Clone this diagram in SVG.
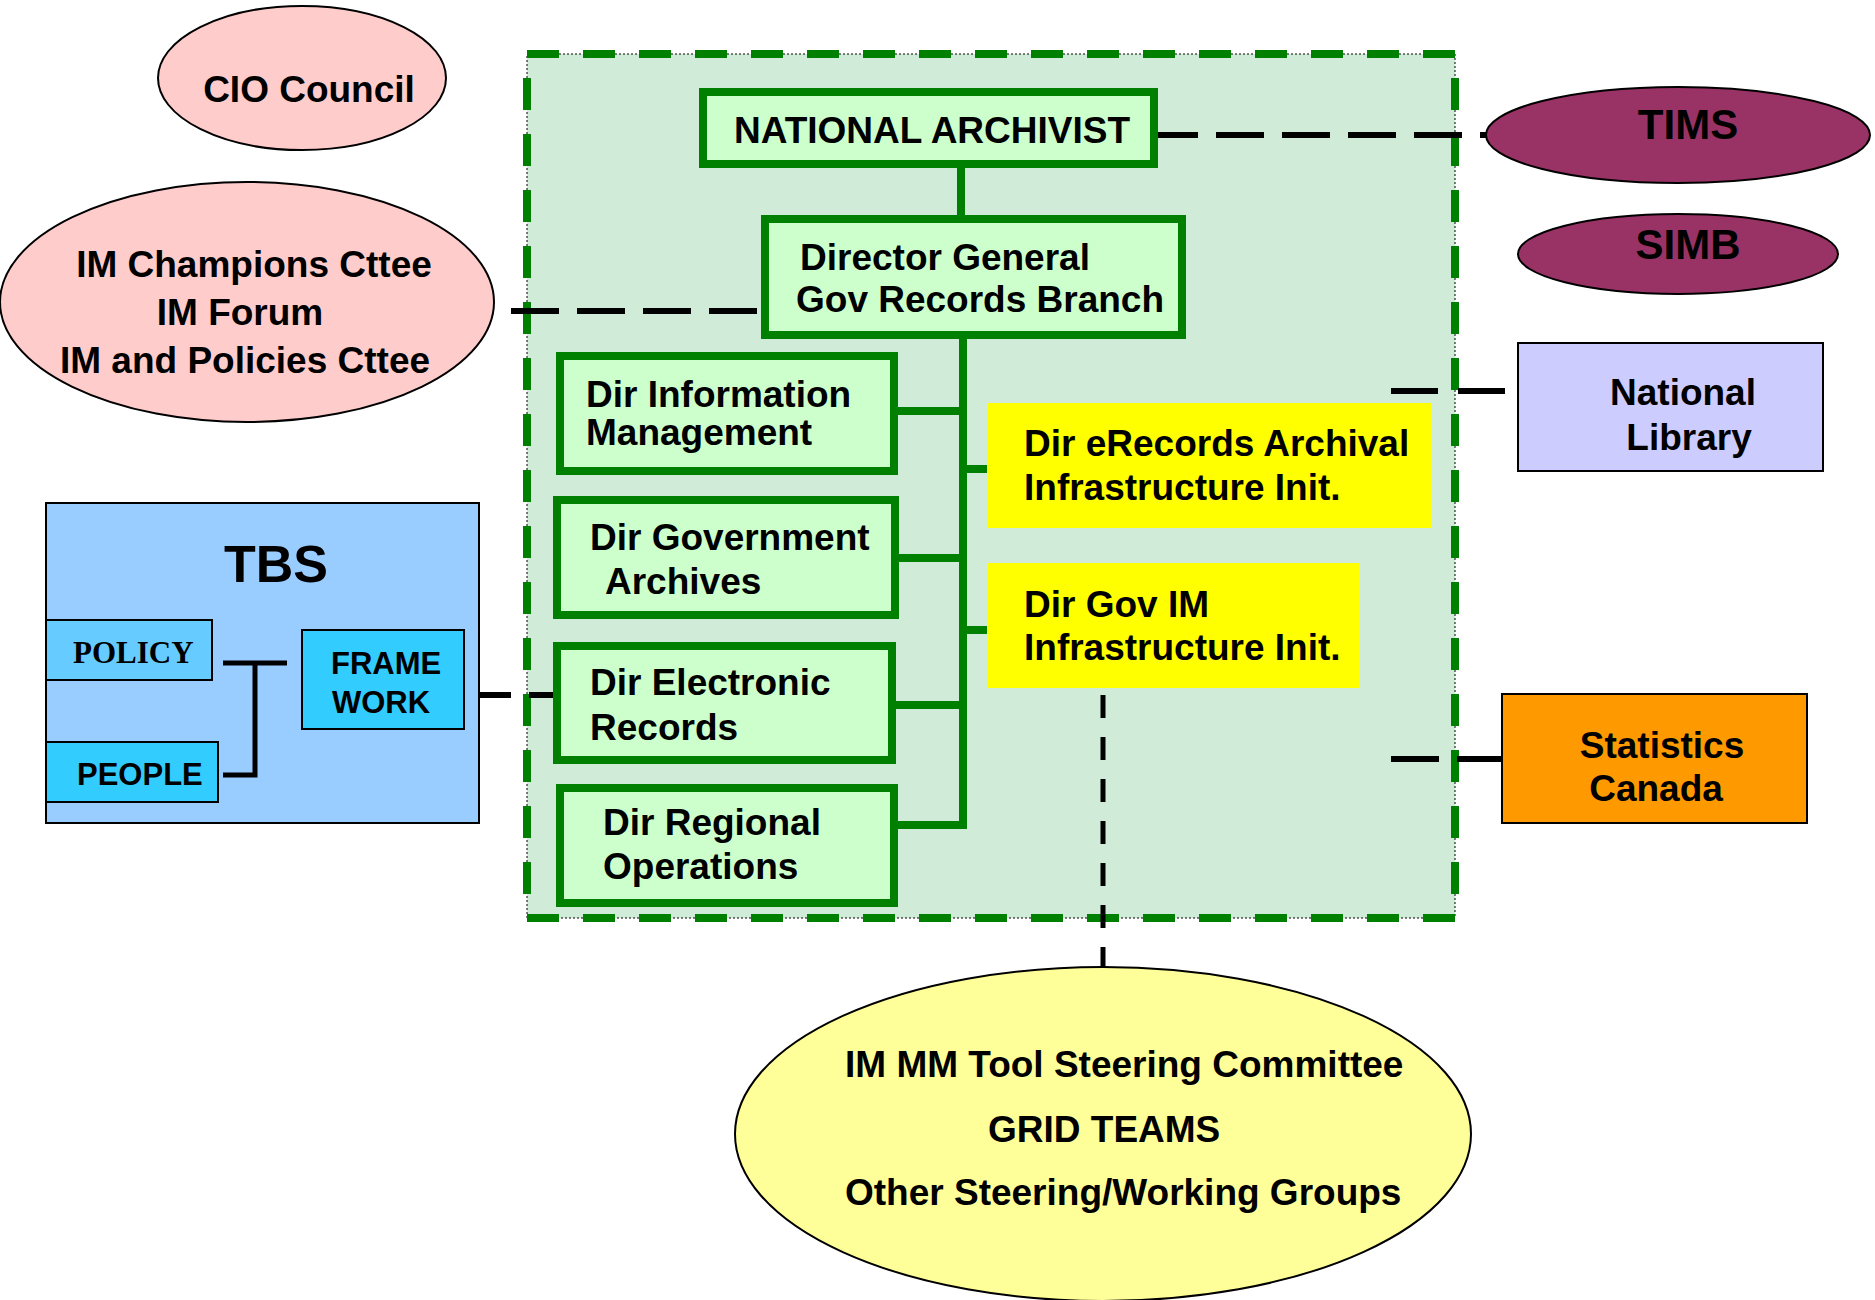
<svg xmlns="http://www.w3.org/2000/svg" width="1875" height="1300" viewBox="0 0 1875 1300">
<style>
text{font-family:"Liberation Sans",Arial,sans-serif;font-weight:bold;fill:#000;font-size:37px}
.serif{font-family:"Liberation Serif","Times New Roman",serif}
.mid{text-anchor:middle}
.gbox{fill:#CCFFCC;stroke:#008000;stroke-width:8}
.ybox{fill:#FFFF00}
.pink{fill:#FFCCCC;stroke:#000;stroke-width:2}
.plum{fill:#993366;stroke:#000;stroke-width:2}
.gline{stroke:#008000;stroke-width:8;fill:none}
.dash{stroke:#000;stroke-width:6;fill:none;stroke-dasharray:48 18}
.solid{stroke:#000;stroke-width:5;fill:none}
.thin{stroke:#000;stroke-width:2}
</style>
<rect width="1875" height="1300" fill="#fff"/>
<g id="container">
<rect x="527" y="54" width="928" height="864" fill="#D0ECD8"/>
<rect x="527" y="54" width="928" height="864" fill="none" stroke="#000" stroke-width="1" stroke-dasharray="2 2"/>
<rect x="527" y="54" width="928" height="864" fill="none" stroke="#008000" stroke-width="8" stroke-dasharray="32 24"/>
</g>
<g id="connectors">
<line class="gline" x1="961" y1="166" x2="961" y2="217"/>
<polyline class="gline" points="963,337 963,825 898,825"/>
<line class="gline" x1="896" y1="411" x2="963" y2="411"/>
<line class="gline" x1="897" y1="558" x2="963" y2="558"/>
<line class="gline" x1="894" y1="705" x2="963" y2="705"/>
<line class="gline" x1="963" y1="469" x2="988" y2="469"/>
<line class="gline" x1="963" y1="630" x2="988" y2="630"/>
<line class="dash" x1="1150" y1="135" x2="1490" y2="135"/>
<line class="dash" x1="511" y1="311" x2="757" y2="311"/>
<line class="dash" x1="479" y1="695" x2="553" y2="695" style="stroke-dasharray:32 18"/>
<line class="dash" x1="1391" y1="391" x2="1518" y2="391" style="stroke-dasharray:47 20"/>
<line class="dash" x1="1391" y1="759" x2="1502" y2="759"/>
<line class="dash" x1="1103" y1="695" x2="1103" y2="967" style="stroke-width:5;stroke-dasharray:23 19"/>
</g>
<g id="cio-council">
<ellipse class="pink" cx="302" cy="78" rx="144" ry="72"/>
<text x="309" y="102" class="mid">CIO Council</text>
</g>
<g id="im-committees">
<ellipse class="pink" cx="247" cy="302" rx="247" ry="120"/>
<text x="254" y="277" class="mid">IM Champions Cttee</text>
<text x="240" y="325" class="mid">IM Forum</text>
<text x="245" y="373" class="mid">IM and Policies Cttee</text>
</g>
<g id="national-archivist">
<rect class="gbox" x="703" y="92" width="451" height="72"/>
<text x="734" y="143">NATIONAL ARCHIVIST</text>
</g>
<g id="director-general">
<rect class="gbox" x="765" y="219" width="417" height="116"/>
<text x="800" y="270">Director General</text>
<text x="796" y="312">Gov Records Branch</text>
</g>
<g id="dir-information-management">
<rect class="gbox" x="560" y="356" width="334" height="115"/>
<text x="586" y="407">Dir Information</text>
<text x="586" y="445">Management</text>
</g>
<g id="dir-government-archives">
<rect class="gbox" x="557" y="500" width="338" height="115"/>
<text x="590" y="550">Dir Government</text>
<text x="605" y="594">Archives</text>
</g>
<g id="dir-electronic-records">
<rect class="gbox" x="557" y="646" width="335" height="114"/>
<text x="590" y="695">Dir Electronic</text>
<text x="590" y="740">Records</text>
</g>
<g id="dir-regional-operations">
<rect class="gbox" x="560" y="788" width="334" height="115"/>
<text x="603" y="835">Dir Regional</text>
<text x="603" y="879">Operations</text>
</g>
<g id="dir-erecords">
<rect class="ybox" x="987" y="403" width="445" height="125"/>
<text x="1024" y="456">Dir eRecords Archival</text>
<text x="1024" y="500">Infrastructure Init.</text>
</g>
<g id="dir-gov-im">
<rect class="ybox" x="987" y="563" width="373" height="125"/>
<text x="1024" y="617">Dir Gov IM</text>
<text x="1024" y="660">Infrastructure Init.</text>
</g>
<g id="tims">
<ellipse class="plum" cx="1678" cy="135" rx="192" ry="48"/>
<text x="1688" y="139" class="mid" style="font-size:42px">TIMS</text>
</g>
<g id="simb">
<ellipse class="plum" cx="1678" cy="254" rx="160" ry="40"/>
<text x="1688" y="259" class="mid" style="font-size:42px">SIMB</text>
</g>
<g id="national-library">
<rect x="1518" y="343" width="305" height="128" fill="#CCCCFF" class="thin"/>
<text x="1683" y="405" class="mid">National</text>
<text x="1689" y="450" class="mid">Library</text>
</g>
<g id="statistics-canada">
<rect x="1502" y="694" width="305" height="129" fill="#FF9900" class="thin"/>
<text x="1662" y="758" class="mid">Statistics</text>
<text x="1656" y="801" class="mid">Canada</text>
</g>
<g id="tbs">
<rect x="46" y="503" width="433" height="320" fill="#99CCFF" class="thin"/>
<text x="276" y="582" class="mid" style="font-size:52px">TBS</text>
<g id="tbs-policy">
<rect x="46" y="620" width="166" height="60" fill="#66CCFF" class="thin"/>
<text x="73" y="663" class="serif" style="font-size:31px">POLICY</text>
</g>
<g id="tbs-people">
<rect x="46" y="742" width="172" height="60" fill="#33CCFF" class="thin"/>
<text x="77" y="785" style="font-size:31px">PEOPLE</text>
</g>
<g id="tbs-framework">
<rect x="302" y="630" width="162" height="99" fill="#33CCFF" class="thin"/>
<text x="331" y="674" style="font-size:31px">FRAME</text>
<text x="332" y="713" style="font-size:31px">WORK</text>
</g>
<path class="solid" d="M223,663 H287 M255,663 V775 H223"/>
</g>
<g id="working-groups">
<ellipse cx="1103" cy="1134" rx="368" ry="167" fill="#FFFF99" stroke="#000" stroke-width="2"/>
<text x="845" y="1077">IM MM Tool Steering Committee</text>
<text x="988" y="1142">GRID TEAMS</text>
<text x="845" y="1205">Other Steering/Working Groups</text>
</g>
</svg>
